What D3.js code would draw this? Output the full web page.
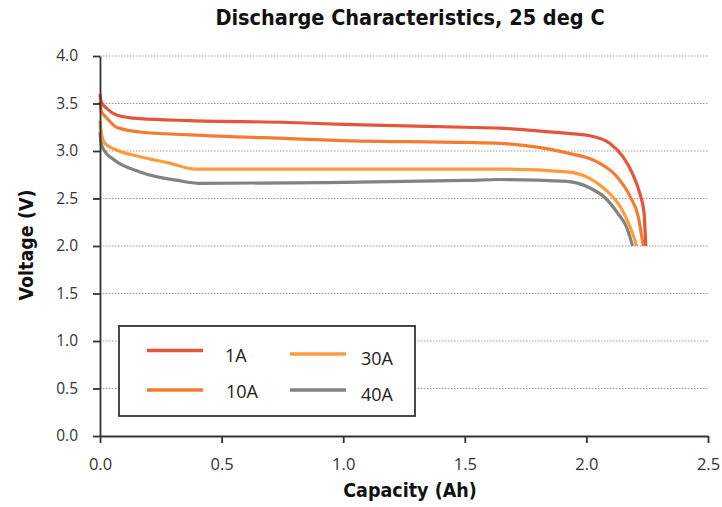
<!DOCTYPE html>
<html>
<head>
<meta charset="utf-8">
<script src="https://cdn.jsdelivr.net/npm/d3@7"></script>
<style>
  body { margin: 0; background: #fff; }
  svg { display: block; }
</style>
</head>
<body>
<svg width="722" height="507"></svg>
<script>
'use strict';

// readings: capacity (Ah) and voltage (V)
const cap1A = [0, 0.005, 0.027, 0.068, 0.164, 0.37, 0.78, 1.0, 1.5, 1.645, 1.9, 2.015, 2.097, 2.15, 2.19, 2.22, 2.237, 2.244];
const volt1A = [3.6, 3.52, 3.45, 3.38, 3.34, 3.32, 3.30, 3.28, 3.25, 3.24, 3.19, 3.16, 3.08, 2.94, 2.76, 2.55, 2.35, 2.0];

const cap10A = [0, 0.005, 0.027, 0.068, 0.164, 0.37, 0.78, 1.0, 1.5, 1.645, 1.92, 2.04, 2.125, 2.18, 2.213, 2.234];
const volt10A = [3.52, 3.42, 3.35, 3.25, 3.20, 3.17, 3.13, 3.11, 3.09, 3.08, 2.98, 2.89, 2.73, 2.52, 2.31, 2.0];

const cap30A = [0, 0.005, 0.02, 0.068, 0.164, 0.29, 0.39, 0.6, 1.0, 1.5, 1.645, 1.92, 2.015, 2.08, 2.14, 2.18, 2.207];
const volt30A = [3.32, 3.2, 3.08, 3.01, 2.94, 2.87, 2.81, 2.81, 2.81, 2.81, 2.81, 2.78, 2.71, 2.59, 2.41, 2.20, 2.0];

const cap40A = [0, 0.005, 0.016, 0.056, 0.164, 0.32, 0.41, 0.8, 1.0, 1.5, 1.645, 1.92, 2.015, 2.08, 2.13, 2.165, 2.19];
const volt40A = [3.2, 3.08, 3.01, 2.91, 2.78, 2.69, 2.66, 2.665, 2.67, 2.69, 2.70, 2.68, 2.61, 2.50, 2.34, 2.20, 2.0];

const seriesNames = ["1A", "10A", "30A", "40A"];
const seriesColors = ["#e8543a", "#f47b30", "#fe9b3d", "#828282"];
const xTicks = [0, 0.5, 1.0, 1.5, 2.0, 2.5];
const yTicks = [0, 0.5, 1.0, 1.5, 2.0, 2.5, 3.0, 3.5, 4.0];

const series = [
  {name: seriesNames[0], color: seriesColors[0], cap: cap1A, volt: volt1A},
  {name: seriesNames[1], color: seriesColors[1], cap: cap10A, volt: volt10A},
  {name: seriesNames[2], color: seriesColors[2], cap: cap30A, volt: volt30A},
  {name: seriesNames[3], color: seriesColors[3], cap: cap40A, volt: volt40A},
];

const svg = d3.select("svg");
const plotLeft = 100, plotRight = 708, plotTop = 56, plotBottom = 436;
const fontPlain = "'Open Sans', 'DejaVu Sans', sans-serif";
const fontBold = "'DejaVu Sans Condensed', 'Liberation Sans Narrow', sans-serif";

const x = d3.scaleLinear().domain([0, 2.5]).range([plotLeft, plotRight]);
const y = d3.scaleLinear().domain([0, 4]).range([plotBottom, plotTop]);

// dotted gridlines
svg.append("g")
  .selectAll("line")
  .data(yTicks.filter(d => d > 0))
  .join("line")
    .attr("x1", plotLeft)
    .attr("x2", plotRight)
    .attr("y1", d => y(d))
    .attr("y2", d => y(d))
    .attr("stroke", "#9a9a9a")
    .attr("stroke-width", 1.2)
    .attr("stroke-dasharray", "1.5,1.5");

// curves
const line = d3.line()
  .x(d => x(d[0]))
  .y(d => y(d[1]))
  .curve(d3.curveMonotoneX);

svg.append("g")
  .selectAll("path")
  .data(series.slice().reverse())
  .join("path")
    .attr("d", s => line(d3.zip(s.cap, s.volt)))
    .attr("fill", "none")
    .attr("stroke", s => s.color)
    .attr("stroke-width", 3.2)
    .attr("stroke-linejoin", "round");

// axes
const xAxis = svg.append("g")
  .attr("transform", `translate(0,${plotBottom})`)
  .call(d3.axisBottom(x).tickValues(xTicks).tickFormat(d3.format(".1f"))
    .tickSize(7).tickSizeOuter(0).tickPadding(15));

const yAxis = svg.append("g")
  .attr("transform", `translate(${plotLeft},0)`)
  .call(d3.axisLeft(y).tickValues(yTicks).tickFormat(d3.format(".1f"))
    .tickSize(7).tickSizeOuter(0).tickPadding(15));

[xAxis, yAxis].forEach(g => {
  g.select(".domain").attr("stroke", "#333").attr("stroke-width", 1.8);
  g.selectAll(".tick line").attr("stroke", "#333").attr("stroke-width", 1.8);
  g.selectAll(".tick text")
    .attr("fill", "#333")
    .style("font-family", fontPlain);
});
xAxis.selectAll(".tick text").style("font-size", "16.5px");
yAxis.selectAll(".tick text").style("font-size", "15.5px");

// titles
svg.append("text")
  .attr("x", 410)
  .attr("y", 25)
  .attr("text-anchor", "middle")
  .style("font-family", fontBold)
  .style("font-weight", "bold")
  .style("font-size", "21.5px")
  .attr("fill", "#111")
  .text("Discharge Characteristics, 25 deg C");

svg.append("text")
  .attr("x", 410)
  .attr("y", 497)
  .attr("text-anchor", "middle")
  .style("font-family", fontBold)
  .style("font-weight", "bold")
  .style("font-size", "19.5px")
  .attr("fill", "#111")
  .text("Capacity (Ah)");

svg.append("text")
  .attr("transform", "translate(33,245) rotate(-90)")
  .attr("text-anchor", "middle")
  .style("font-family", fontBold)
  .style("font-weight", "bold")
  .style("font-size", "19.5px")
  .attr("fill", "#111")
  .text("Voltage (V)");

// legend
const legend = svg.append("g");
legend.append("rect")
  .attr("x", 119)
  .attr("y", 326)
  .attr("width", 296)
  .attr("height", 90)
  .attr("fill", "#fff")
  .attr("stroke", "#333")
  .attr("stroke-width", 1.8);

const legendPos = [
  {lx: 147, ly: 350.5, tx: 225, ty: 362},
  {lx: 147, ly: 390, tx: 226, ty: 398},
  {lx: 290, ly: 354, tx: 361, ty: 365},
  {lx: 290, ly: 390, tx: 361, ty: 401},
];

const item = legend.selectAll("g.item")
  .data(series)
  .join("g")
    .attr("class", "item");

item.append("line")
  .attr("x1", (d, i) => legendPos[i].lx)
  .attr("x2", (d, i) => legendPos[i].lx + 56)
  .attr("y1", (d, i) => legendPos[i].ly)
  .attr("y2", (d, i) => legendPos[i].ly)
  .attr("stroke", d => d.color)
  .attr("stroke-width", 3.5);

item.append("text")
  .attr("x", (d, i) => legendPos[i].tx)
  .attr("y", (d, i) => legendPos[i].ty)
  .style("font-family", fontPlain)
  .style("font-size", "18px")
  .attr("fill", "#222")
  .text(d => d.name);
</script>
</body>
</html>
